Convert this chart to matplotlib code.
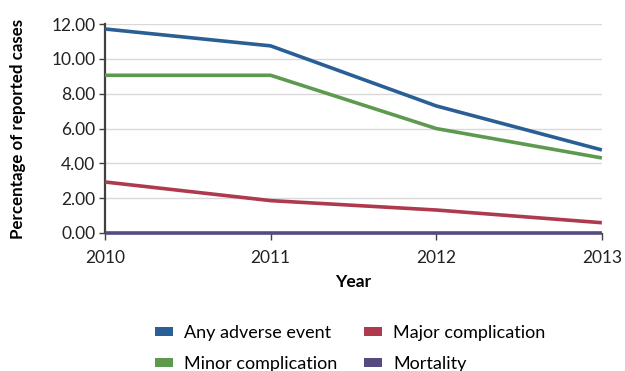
import matplotlib
matplotlib.use("Agg")
import matplotlib.pyplot as plt
from matplotlib.patches import Patch

plt.rcParams['font.family'] = ['Lato', 'DejaVu Sans']

years = [2010, 2011, 2012, 2013]
any_adverse = [11.72, 10.75, 7.30, 4.77]
minor_comp = [9.06, 9.06, 6.00, 4.31]
major_comp = [2.93, 1.86, 1.32, 0.59]
mortality = [0.0, 0.0, 0.0, 0.0]

series = [
    ("Any adverse event", any_adverse, "#2a5f95"),
    ("Minor complication", minor_comp, "#5d9a4f"),
    ("Major complication", major_comp, "#ad3a4d"),
    ("Mortality", mortality, "#564b80"),
]

fig = plt.figure(figsize=(6.25, 3.71), dpi=100)
ax = fig.add_axes([0.168, 0.372, 0.795, 0.563])

for name, vals, col in series:
    ax.plot(years, vals, color=col, lw=2.6, solid_capstyle='butt', zorder=3, clip_on=False)

ax.set_xlim(2010, 2013)
ax.set_ylim(0, 12)
ax.set_yticks(range(0, 13, 2))
ax.set_yticklabels([f"{v:.2f}" for v in range(0, 13, 2)], fontsize=12.5, color="#222222")
ax.set_xticks(years)
ax.set_xticklabels([str(y) for y in years], fontsize=12.5, color="#222222")
ax.grid(axis='y', color="#d9d9d9", lw=1.0, zorder=0)
for s in ['top', 'right']:
    ax.spines[s].set_visible(False)
ax.spines['bottom'].set_color("#404040")
ax.spines['left'].set_color("#404040")
ax.spines['left'].set_linewidth(1.6)
ax.tick_params(axis='y', length=4, width=1, color="#404040", pad=3)
ax.tick_params(axis='x', length=5, width=1, color="#404040", pad=7)

ax.set_ylabel("Percentage of reported cases", fontsize=12.2, fontweight='bold', labelpad=18)
ax.set_xlabel("Year", fontsize=12.5, fontweight='bold', labelpad=6)

handles = [Patch(facecolor=col, edgecolor='none') for _, _, col in series]
labels = [name for name, _, _ in series]
fig.legend(handles, labels, loc='upper left', bbox_to_anchor=(0.248, 0.124),
           ncol=2, frameon=False, fontsize=13, handlelength=1.0, handleheight=0.4,
           columnspacing=1.5, labelspacing=0.85, handletextpad=0.6,
           borderaxespad=0, borderpad=0)

fig.savefig("out.png", dpi=100)
